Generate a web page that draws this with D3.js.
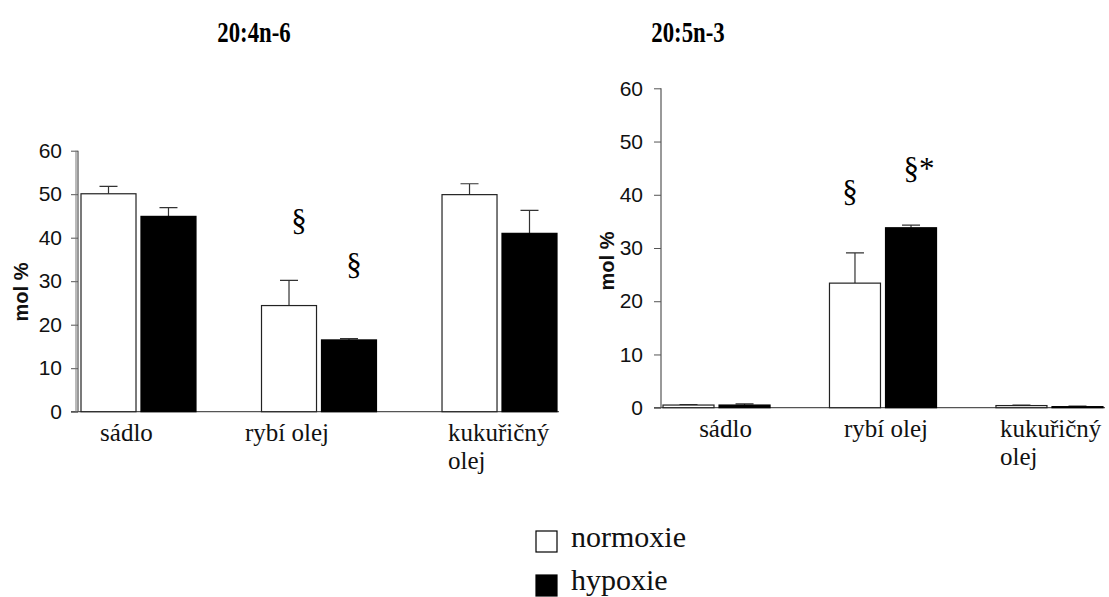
<!DOCTYPE html>
<html>
<head>
<meta charset="utf-8">
<script src="https://cdn.jsdelivr.net/npm/d3@7/dist/d3.min.js"></script>
<style>
  html, body { margin: 0; padding: 0; background: #fff; }
  svg { display: block; }
  .tick text { font-family: "Liberation Sans", Arial, sans-serif; }
</style>
</head>
<body>
<svg id="chart" width="1109" height="597"></svg>
<script>
// Diet groups and the two oxygen conditions
const categories = ["sádlo", "rybí olej", "kukuřičný olej"];
const series = ["normoxie", "hypoxie"];
const yTicks = [0, 10, 20, 30, 40, 50, 60];

// 20:4n-6 (mol %), means and upper error limits
const aaNormoxie = [50.1, 24.4, 49.9];
const aaNormoxieErr = [51.8, 30.2, 52.4];
const aaHypoxie = [44.9, 16.5, 41.0];
const aaHypoxieErr = [46.9, 16.8, 46.3];
const aaMarks = ["", "§", ""];
const aaMarksH = ["", "§", ""];

// 20:5n-3 (mol %), means and upper error limits
const epaNormoxie = [0.5, 23.4, 0.4];
const epaNormoxieErr = [0.6, 29.1, 0.5];
const epaHypoxie = [0.5, 33.8, 0.2];
const epaHypoxieErr = [0.7, 34.3, 0.3];
const epaMarks = ["", "§", ""];
const epaMarksH = ["", "§*", ""];

const svg = d3.select("#chart");
const serif = "'Liberation Serif', 'Times New Roman', serif";
const sans = "'Liberation Sans', Arial, sans-serif";
const fills = { normoxie: "#fff", hypoxie: "#000" };

function drawPanel(p) {
  const g = svg.append("g");
  const y = d3.scaleLinear().domain([0, 60]).range([p.y0, p.y60]);
  const x = d3.scaleBand().domain(categories).range([p.xStart, p.xEnd]).paddingInner(p.groupPad).paddingOuter(0);
  const xs = d3.scaleBand().domain(series).range([0, x.bandwidth()]).paddingInner(p.barPad);

  // x baseline
  g.append("line")
    .attr("x1", p.axisX - 7).attr("x2", p.xEnd + 2)
    .attr("y1", p.y0).attr("y2", p.y0)
    .attr("stroke", "#555").attr("stroke-width", 1.2);

  // y axis
  const ax = g.append("g").attr("transform", `translate(${p.axisX},0)`)
    .call(d3.axisLeft(y).tickValues(yTicks).tickSize(7).tickPadding(p.tickPad));
  ax.select(".domain").attr("stroke", "#555").attr("stroke-width", 1.2)
    .attr("d", `M0,${p.y0}V${p.y60}`);
  ax.selectAll(".tick line").attr("stroke", "#555");
  ax.selectAll(".tick text").attr("font-size", 21).attr("fill", "#111");
  if (p.doubleAxis) {
    g.append("line").attr("x1", p.axisX - 2).attr("x2", p.axisX - 2)
      .attr("y1", p.y0).attr("y2", p.y60).attr("stroke", "#777").attr("stroke-width", 1);
  }

  g.append("text")
    .attr("transform", `translate(${p.labelX},${p.labelY}) rotate(-90)`)
    .attr("text-anchor", "middle")
    .attr("font-family", sans).attr("font-weight", "bold").attr("font-size", 20)
    .attr("fill", "#111")
    .text("mol %");

  const rows = categories.map((c, i) => ({
    c,
    vals: [
      { s: "normoxie", v: p.n[i], e: p.ne[i], m: p.mn[i] },
      { s: "hypoxie", v: p.h[i], e: p.he[i], m: p.mh[i] }
    ]
  }));

  const grp = g.selectAll(".grp").data(rows).join("g")
    .attr("transform", d => `translate(${x(d.c)},0)`);

  // error bars (upper only)
  grp.selectAll(".err").data(d => d.vals).join("path")
    .attr("d", d => {
      const cx = xs(d.s) + xs.bandwidth() / 2;
      return `M${cx},${y(d.v)}V${y(d.e)}M${cx - 9},${y(d.e)}H${cx + 9}`;
    })
    .attr("stroke", "#333").attr("stroke-width", 1.2).attr("fill", "none");

  grp.selectAll(".bar").data(d => d.vals).join("rect")
    .attr("x", d => xs(d.s))
    .attr("width", xs.bandwidth())
    .attr("y", d => y(d.v))
    .attr("height", d => y(0) - y(d.v))
    .attr("fill", d => fills[d.s])
    .attr("stroke", d => d.s === "normoxie" ? "#222" : "#000")
    .attr("stroke-width", 1.2);

  // significance marks
  grp.selectAll(".mark").data(d => d.vals.filter(v => v.m)).join("text")
    .attr("x", d => xs(d.s) + xs.bandwidth() / 2 + p.markDx(d))
    .attr("y", d => y(d.e) - p.markGap(d))
    .attr("text-anchor", "middle")
    .attr("font-family", serif).attr("font-size", 31).attr("fill", "#000")
    .text(d => d.m);

  // category labels; the two-word oil name wraps onto a second line
  grp.append("text")
    .attr("font-family", serif).attr("font-size", 25).attr("fill", "#111")
    .each(function (d, i) {
      const t = d3.select(this);
      if (i === 2) {
        t.attr("text-anchor", "start")
          .attr("transform", `translate(${p.wrapX - x(d.c)},${p.y0 + 29})`);
        d.c.split(" ").forEach((w, k) => {
          t.append("tspan").attr("x", 0).attr("dy", k === 0 ? 0 : 28).text(w);
        });
      } else {
        t.attr("text-anchor", "middle")
          .attr("transform", `translate(${x.bandwidth() / 2 + p.catOffset[i]},${p.y0 + 29})`)
          .text(d.c);
      }
    });

  svg.append("text")
    .attr("transform", `translate(${p.titleX},42) scale(0.76,1)`)
    .attr("text-anchor", "middle")
    .attr("font-family", serif).attr("font-weight", "bold").attr("font-size", 30)
    .attr("fill", "#000")
    .text(p.title);
}

drawPanel({
  title: "20:4n-6", titleX: 254,
  y0: 411.7, y60: 150.7, axisX: 78, xStart: 81, xEnd: 557,
  groupPad: 0.363, barPad: 0.083, tickPad: 9, doubleAxis: true,
  labelX: 28, labelY: 292,
  n: aaNormoxie, ne: aaNormoxieErr, h: aaHypoxie, he: aaHypoxieErr,
  mn: aaMarks, mh: aaMarksH,
  markGap: d => d.s === "normoxie" ? 49 : 64,
  markDx: d => d.s === "normoxie" ? 10 : 5,
  catOffset: [-12, -32, 0], wrapX: 448
});

drawPanel({
  title: "20:5n-3", titleX: 688,
  y0: 407.7, y60: 88.3, axisX: 661, xStart: 663, xEnd: 1103,
  groupPad: 0.357, barPad: 0.09, tickPad: 11, doubleAxis: false,
  labelX: 614, labelY: 261,
  n: epaNormoxie, ne: epaNormoxieErr, h: epaHypoxie, he: epaHypoxieErr,
  mn: epaMarks, mh: epaMarksH,
  markGap: d => d.s === "normoxie" ? 51 : 46,
  markDx: d => d.s === "normoxie" ? -5 : 8,
  catOffset: [9, 3, 0], wrapX: 1000
});

// legend
const legend = svg.append("g");
legend.selectAll("rect").data(series).join("rect")
  .attr("x", 536)
  .attr("y", (d, i) => 531 + i * 44)
  .attr("width", 21).attr("height", 21)
  .attr("fill", d => fills[d])
  .attr("stroke", "#000").attr("stroke-width", 1.2);
legend.selectAll("text").data(series).join("text")
  .attr("x", 571)
  .attr("y", (d, i) => 547 + i * 43)
  .attr("font-family", serif).attr("font-size", 30).attr("fill", "#111")
  .text(d => d);
</script>
</body>
</html>
